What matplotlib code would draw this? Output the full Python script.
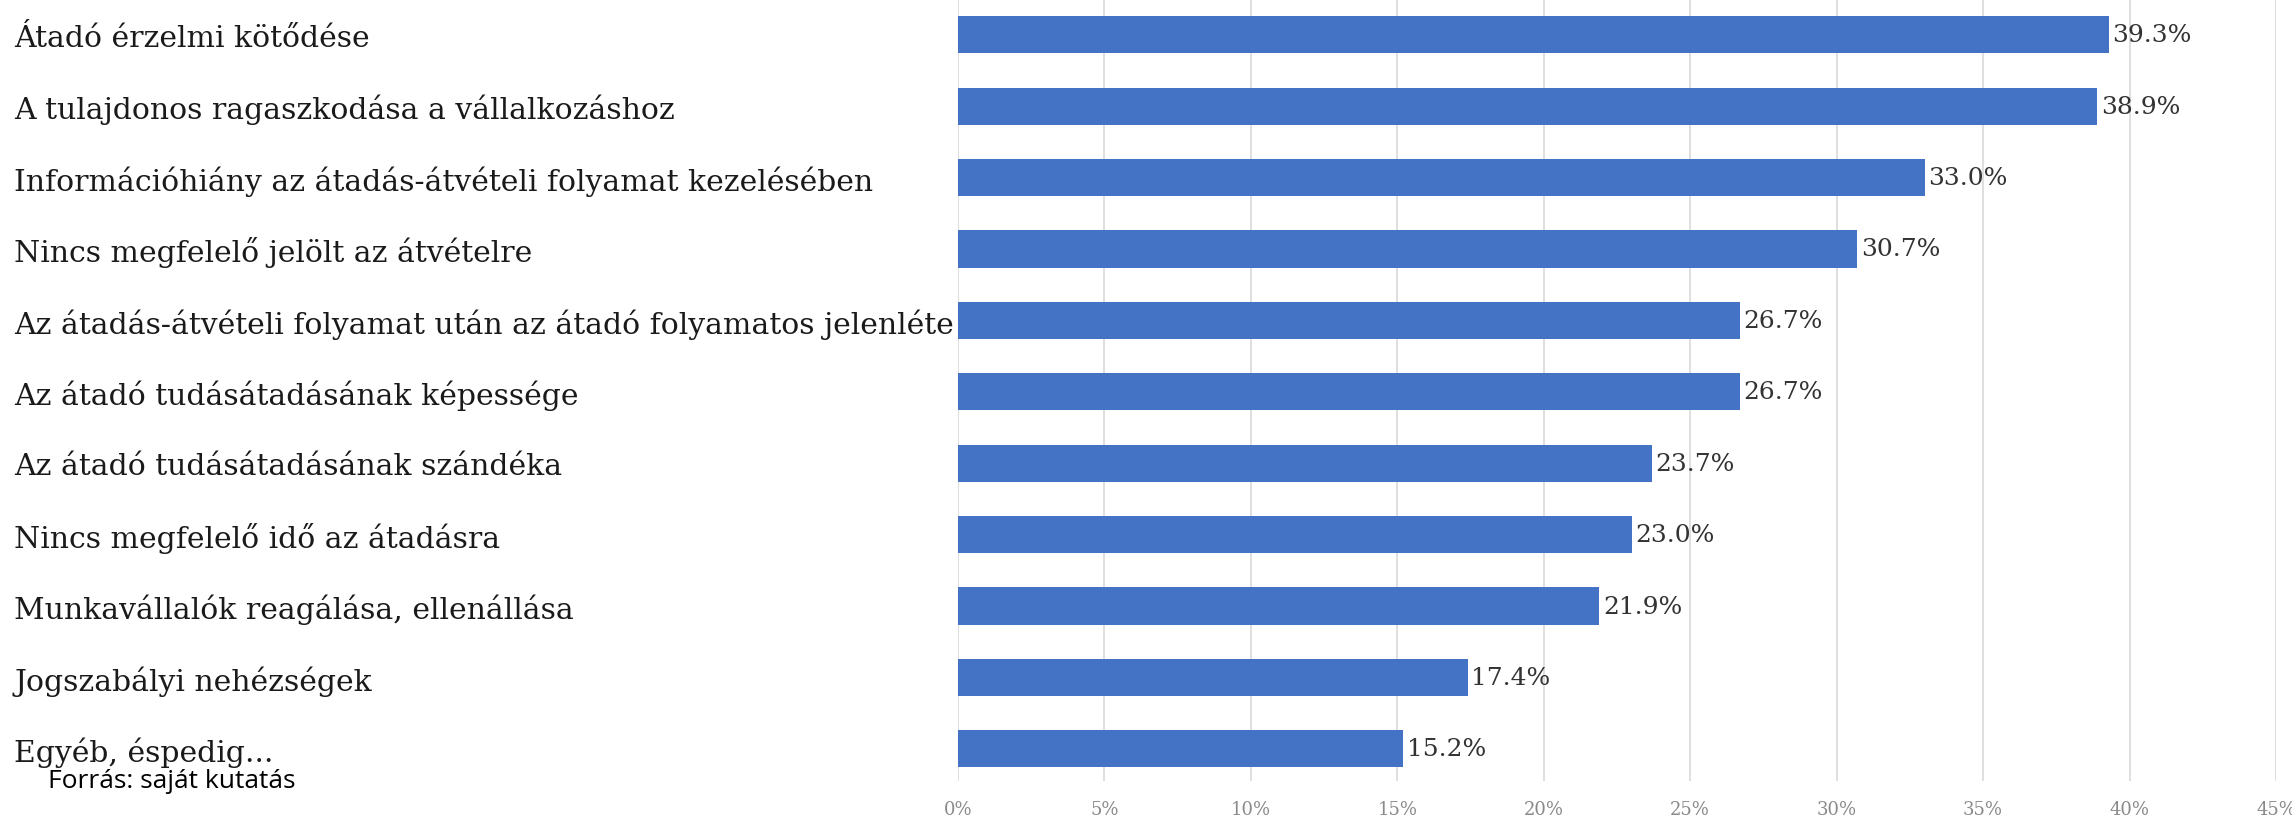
import matplotlib
matplotlib.use("Agg")
import matplotlib.pyplot as plt
from matplotlib.ticker import FuncFormatter, MultipleLocator

categories = [
    "Átadó érzelmi kötődése",
    "A tulajdonos ragaszkodása a vállalkozáshoz",
    "Információhiány az átadás-átvételi folyamat kezelésében",
    "Nincs megfelelő jelölt az átvételre",
    "Az átadás-átvételi folyamat után az átadó folyamatos jelenléte",
    "Az átadó tudásátadásának képessége",
    "Az átadó tudásátadásának szándéka",
    "Nincs megfelelő idő az átadásra",
    "Munkavállalók reagálása, ellenállása",
    "Jogszabályi nehézségek",
    "Egyéb, éspedig...",
]
values = [39.3, 38.9, 33.0, 30.7, 26.7, 26.7, 23.7, 23.0, 21.9, 17.4, 15.2]
source_note = "Forrás: saját kutatás"

W, H, DPI = 2292, 828, 100
fig = plt.figure(figsize=(W / DPI, H / DPI), dpi=DPI)
fig.patch.set_facecolor("white")

left_px, right_px, top_px, bottom_px = 958, 2276, 0, 782
ax = fig.add_axes([left_px / W, 1 - bottom_px / H, (right_px - left_px) / W, (bottom_px - top_px) / H])

y = list(range(len(categories)))
ax.barh(y, values, height=0.52, color="#4472C4", zorder=3)
ax.set_xlim(0, 45)
ax.set_ylim(10.45, -0.5)
ax.xaxis.set_major_locator(MultipleLocator(5))
ax.xaxis.set_major_formatter(FuncFormatter(lambda v, p: f"{int(round(v))}%"))
ax.grid(axis="x", color="#d9d9d9", linewidth=1.2, zorder=0)
for s in ax.spines.values():
    s.set_visible(False)
ax.tick_params(axis="x", length=0, pad=14, labelsize=13, labelcolor="#8a8a8a")
for lab in ax.get_xticklabels():
    lab.set_family("DejaVu Serif")

ax.set_yticks(y)
ax.set_yticklabels(categories, ha="left", family="DejaVu Serif", fontsize=21.5, color="#1a1a1a")
pad_pt = (left_px - 14) * 72 / DPI
ax.tick_params(axis="y", length=0, pad=pad_pt)

for yi, v in zip(y, values):
    ax.text(v + 0.12, yi, f"{v:.1f}%", va="center", ha="left", fontsize=18,
            family="DejaVu Serif", color="#333333", zorder=4)

fig.text(48 / W, 1 - 788 / H, source_note, ha="left", va="baseline",
         fontsize=19, family="Open Sans", color="black")

fig.savefig("out.png", dpi=DPI, facecolor="white")
